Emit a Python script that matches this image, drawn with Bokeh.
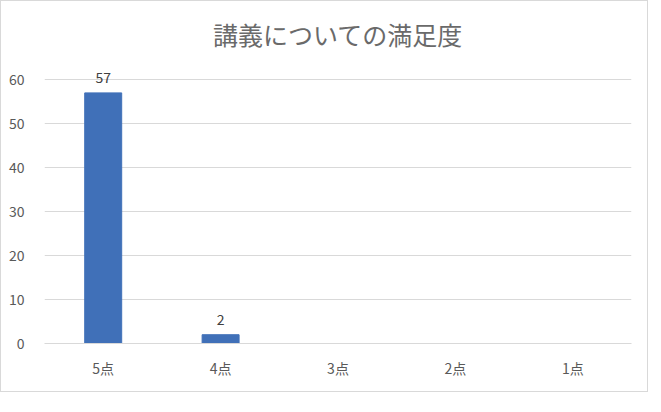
from bokeh.plotting import figure
from bokeh.models import ColumnDataSource, LabelSet, FixedTicker, Range1d
from bokeh.core.properties import value
from bokeh.embed import file_html
from bokeh.resources import INLINE

categories = ["5点", "4点", "3点", "2点", "1点"]
values = [57, 2, 0, 0, 0]
y_ticks = [0, 10, 20, 30, 40, 50, 60]
title_text = "講義についての満足度"

FONT = "Noto Sans CJK JP"

src = ColumnDataSource(data=dict(cat=categories, val=values))
lab_cats = [c for c, v in zip(categories, values) if v != 0]
lab_vals = [v for v in values if v != 0]
lab_src = ColumnDataSource(data=dict(cat=lab_cats, val=lab_vals, txt=[str(v) for v in lab_vals]))

p = figure(x_range=categories, y_range=Range1d(0, 63), width=648, height=392,
           output_backend="svg", toolbar_location=None,
           min_border_left=43, min_border_right=18, min_border_top=65, min_border_bottom=50)

p.vbar(x="cat", top="val", width=0.315, source=src, color="#4070B8")

labels = LabelSet(x="cat", y="val", text="txt", source=lab_src, y_offset=10,
                  text_align="center", text_baseline="bottom",
                  text_font=value(FONT), text_font_size="14px", text_color="#404040")
p.add_layout(labels)

p.title.text = title_text
p.title.align = "center"
p.title.vertical_align = "top"
p.title.text_font = FONT
p.title.text_font_size = "25px"
p.title.text_font_style = "normal"
p.title.text_color = "#6a6a6a"
p.title.standoff = 26

p.outline_line_color = None
p.xgrid.grid_line_color = None
p.ygrid.grid_line_color = "#d9d9d9"
p.yaxis.ticker = FixedTicker(ticks=y_ticks)
p.yaxis.axis_line_color = None
p.yaxis.major_tick_line_color = None
p.yaxis.minor_tick_line_color = None
p.yaxis.major_label_text_font = FONT
p.yaxis.major_label_text_font_size = "14px"
p.yaxis.major_label_text_color = "#595959"
p.yaxis.major_label_standoff = 14

p.xaxis.axis_line_color = "#d9d9d9"
p.xaxis.major_tick_line_color = None
p.xaxis.major_tick_out = 0
p.xaxis.major_label_text_font = FONT
p.xaxis.major_label_text_font_size = "14px"
p.xaxis.major_label_text_color = "#595959"
p.xaxis.major_label_standoff = 14

p.styles = {"border": "1px solid #d9d9d9"}

open("out.html", "w").write(file_html(p, INLINE))
